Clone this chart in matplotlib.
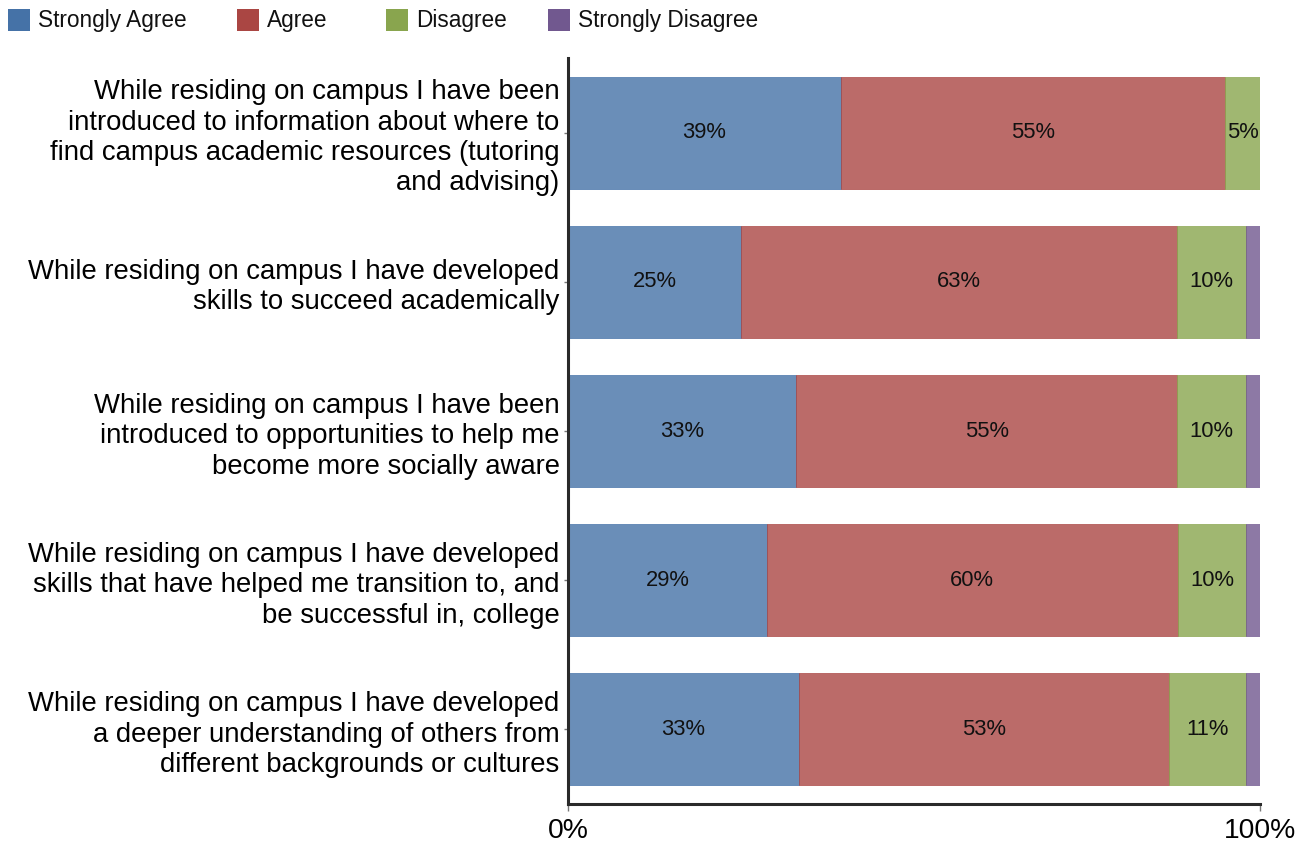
import matplotlib
matplotlib.use("Agg")
import matplotlib.pyplot as plt
from matplotlib.patches import Rectangle
import numpy as np

plt.rcParams['font.family'] = ['Liberation Sans', 'DejaVu Sans']

statements = [
    "While residing on campus I have been\nintroduced to information about where to\nfind campus academic resources (tutoring\nand advising)",
    "While residing on campus I have developed\nskills to succeed academically",
    "While residing on campus I have been\nintroduced to opportunities to help me\nbecome more socially aware",
    "While residing on campus I have developed\nskills that have helped me transition to, and\nbe successful in, college",
    "While residing on campus I have developed\na deeper understanding of others from\ndifferent backgrounds or cultures",
]
series_names = ["Strongly Agree", "Agree", "Disagree", "Strongly Disagree"]
strongly_agree = [39, 25, 33, 29, 33]
agree = [55, 63, 55, 60, 53]
disagree = [5, 10, 10, 10, 11]
strongly_disagree = [0, 2, 2, 2, 2]
x_tick_labels = ["0%", "100%"]

base_colors = ["#4572A7", "#AA4643", "#89A54E", "#71588F"]

values = np.array([strongly_agree, agree, disagree, strongly_disagree], dtype=float)
totals = values.sum(axis=0)
shares = values / totals * 100.0  # percent stacking per row

fig = plt.figure(figsize=(13.03, 8.42), dpi=100)
ax = fig.add_axes([568 / 1303, 1 - 804 / 842, (1260 - 568) / 1303, (804 - 58) / 842])

ypos = np.arange(len(statements))
left = np.zeros(len(statements))
for i, name in enumerate(series_names):
    ax.barh(ypos, shares[i], left=left, height=0.75, color=base_colors[i], alpha=0.8,
            edgecolor=base_colors[i], linewidth=0.6, zorder=2)
    for j in range(len(statements)):
        if values[i, j] >= 4:
            ax.text(left[j] + shares[i, j] / 2, ypos[j], f"{int(values[i, j])}%",
                    ha="center", va="center", fontsize=15.8, color="#111111", zorder=3)
    left += shares[i]

ax.set_xlim(0, 100)
ax.set_ylim(len(statements) - 0.5, -0.5)
ax.set_yticks(ypos)
ax.set_yticklabels(statements, fontsize=19.8, linespacing=1.22, ha="right")
ax.set_xticks([0, 100])
ax.set_xticklabels(x_tick_labels, fontsize=20.3)
ax.tick_params(axis="y", length=3, width=1, color="#777777", pad=3)
ax.tick_params(axis="x", length=5, width=1, color="#777777", pad=5)

for side in ("top", "right"):
    ax.spines[side].set_visible(False)
for side in ("left", "bottom"):
    ax.spines[side].set_linewidth(2.2)
    ax.spines[side].set_color("#2a2a2a")

# Legend row across the top
legend_x = [8, 237, 386, 548]
for name, color, x in zip(series_names, base_colors, legend_x):
    fig.patches.append(Rectangle((x / 1303, 1 - 31 / 842), 22 / 1303, 22 / 842,
                                 transform=fig.transFigure, facecolor=color,
                                 edgecolor="none"))
    fig.text((x + 30) / 1303, 1 - 20 / 842, name, fontsize=16.3, va="center", ha="left",
             color="#111111")

fig.savefig("out.png", dpi=100)
